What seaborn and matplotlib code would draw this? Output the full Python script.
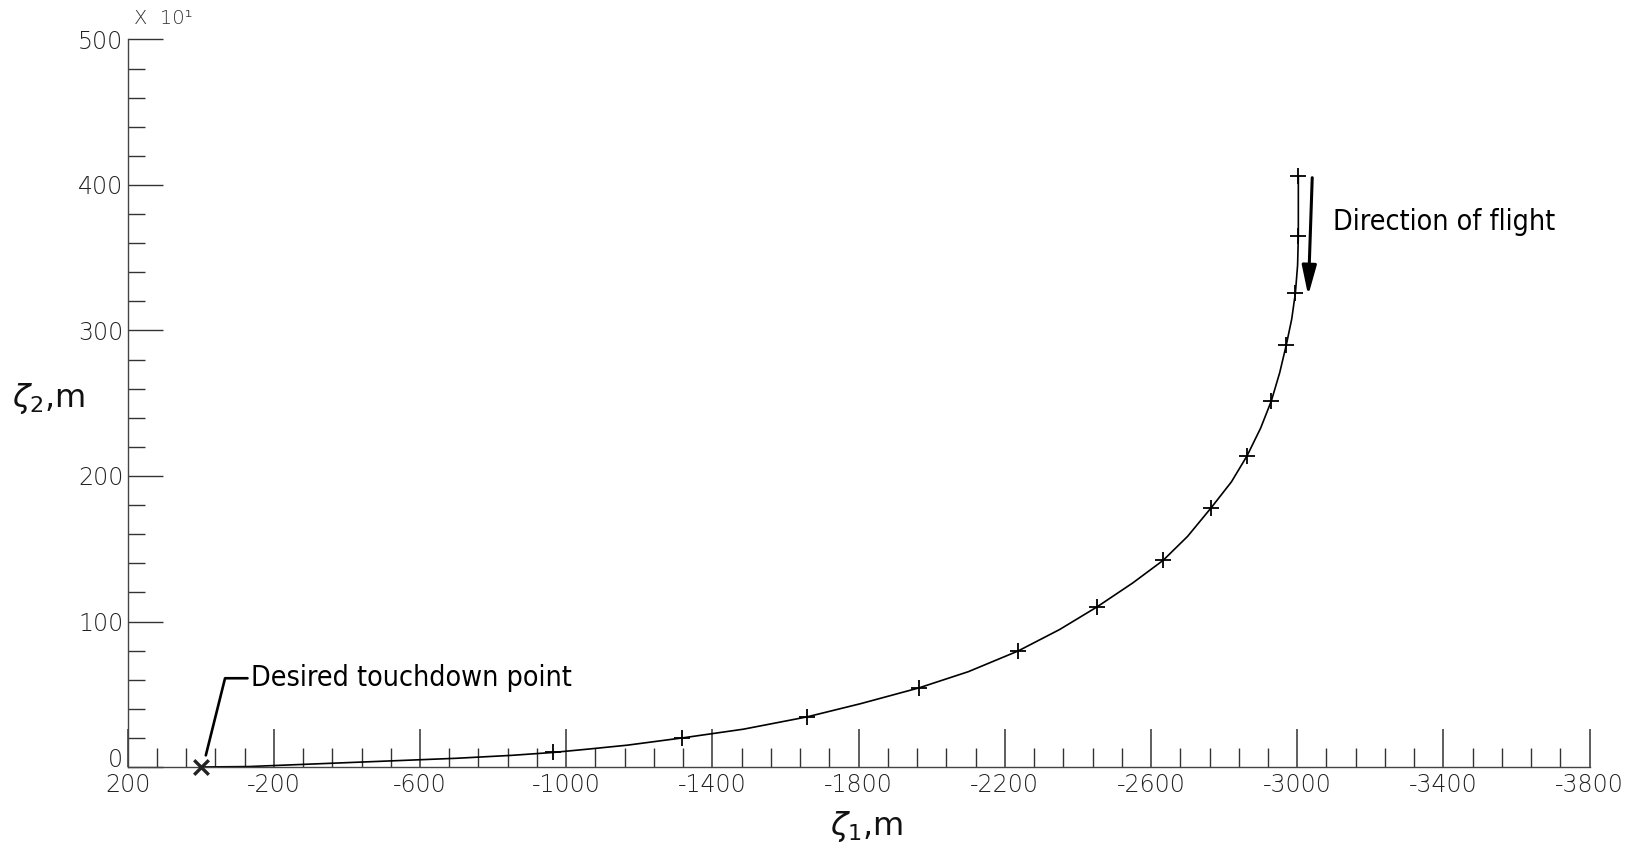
import matplotlib
matplotlib.use("Agg")
import matplotlib.pyplot as plt
from matplotlib.ticker import FixedLocator, FixedFormatter
import seaborn as sns

# Approach ground track: zeta1 in m, zeta2 in units of 10 m
track_zeta1 = [0, -130, -250, -350, -520, -700, -850, -964, -1060, -1167,
               -1318, -1485, -1658, -1805, -1964, -2100, -2236, -2350, -2452,
               -2550, -2633, -2700, -2764, -2820, -2863, -2900, -2929, -2952,
               -2970, -2985, -2995, -3001, -3003, -3003]
track_zeta2 = [0, 0.3, 1.5, 2.5, 4.2, 6.0, 8.0, 10, 12.3, 15,
               20, 26, 34.4, 43.5, 54.3, 65.5, 79.7, 94.5, 110,
               126.5, 142, 158.5, 178, 196, 214, 233, 251.5, 271,
               290, 308, 326, 345, 365, 406]

# Computed positions marked along the track
mark_zeta1 = [-964, -1318, -1658, -1964, -2236, -2452, -2633, -2764, -2863,
              -2929, -2970, -2995, -3003, -3003]
mark_zeta2 = [10, 20, 34.4, 54.3, 79.7, 110, 142, 178, 214,
              251.5, 290, 326, 365, 406]

# Desired touchdown point
touchdown_zeta1 = [0]
touchdown_zeta2 = [0]

# Axis ticks and their labels
x_major = [200, -200, -600, -1000, -1400, -1800, -2200, -2600, -3000, -3400, -3800]
x_labels = ["200", "-200", "-600", "-1000", "-1400", "-1800", "-2200",
            "-2600", "-3000", "-3400", "-3800"]
x_minor = list(range(200, -3801, -80))
y_major = [0, 100, 200, 300, 400, 500]
y_labels = ["0", "100", "200", "300", "400", "500"]
y_minor = list(range(0, 501, 20))

sns.set_style("ticks")
plt.rcParams["font.family"] = ["DejaVu Sans"]
plt.rcParams["axes.unicode_minus"] = False

fig = plt.figure(figsize=(16.4, 8.51), dpi=100)
ax = fig.add_axes([0.0778, 0.0987, 0.8915, 0.8549])

sns.lineplot(x=track_zeta1, y=track_zeta2, sort=False, estimator=None,
             color="black", linewidth=1.2, ax=ax)
sns.scatterplot(x=mark_zeta1, y=mark_zeta2, marker="+", s=120, color="black",
                linewidth=1.3, ax=ax, zorder=4)
sns.scatterplot(x=touchdown_zeta1, y=touchdown_zeta2, marker="x", s=110,
                color="#222222", linewidth=2.4, ax=ax, zorder=5, clip_on=False)

ax.set_xlim(200, -3800)
ax.set_ylim(0, 500)

ax.xaxis.set_major_locator(FixedLocator(x_major))
ax.xaxis.set_major_formatter(FixedFormatter(x_labels))
ax.xaxis.set_minor_locator(FixedLocator(x_minor))
ax.yaxis.set_major_locator(FixedLocator(y_major))
ax.yaxis.set_major_formatter(FixedFormatter(y_labels))
ax.yaxis.set_minor_locator(FixedLocator(y_minor))

for side in ("top", "right"):
    ax.spines[side].set_visible(False)
for side in ("left", "bottom"):
    ax.spines[side].set_color("#444444")
    ax.spines[side].set_linewidth(1.0)

tick_font = dict(labelsize=17, labelcolor="#222222", color="#333333")
ax.tick_params(axis="x", which="major", direction="in", length=27.4, width=1.1,
               pad=4, **tick_font)
ax.tick_params(axis="x", which="minor", direction="in", length=13.7, width=1.0,
               color="#333333")
ax.tick_params(axis="y", which="major", direction="in", length=25, width=1.0,
               pad=3, **tick_font)
ax.tick_params(axis="y", which="minor", direction="in", length=12, width=1.0,
               color="#333333")
for lbl in ax.get_xticklabels() + ax.get_yticklabels():
    lbl.set_fontweight("light")
# the zero on the vertical axis sits just above the corner
ax.get_yticklabels()[0].set_verticalalignment("baseline")

ax.set_xlabel("")
ax.set_ylabel("")

# Axis titles and scale factor
fig.text(49 / 1640, 1 - 398 / 851, r"$\zeta_2$,m", fontsize=23,
         ha="center", va="center", color="#111111")
fig.text(867 / 1640, 1 - 826 / 851, r"$\zeta_1$,m", fontsize=23,
         ha="center", va="center", color="#111111")
fig.text(134 / 1640, 1 - 19 / 851, "X  10\u00b9", fontsize=14,
         ha="left", va="center", color="#333333", fontweight="light")

note_font = dict(family=["Liberation Sans Narrow", "DejaVu Sans"],
                 fontstretch="condensed", fontsize=20.5, color="black")

ax.annotate("Desired touchdown point", xy=(-14, 8), xytext=(-137, 61),
            ha="left", va="center", annotation_clip=False,
            arrowprops=dict(arrowstyle="-", color="black", lw=1.9,
                            relpos=(0, 0.5), shrinkA=0, shrinkB=0,
                            connectionstyle="angle,angleA=0,angleB=76,rad=0"),
            **note_font)

ax.text(-3099, 374.6, "Direction of flight", ha="left", va="center", **note_font)
ax.annotate("", xy=(-3030, 324), xytext=(-3041, 405),
            arrowprops=dict(arrowstyle="-|>,head_length=0.9,head_width=0.22",
                            color="black", lw=2.2, mutation_scale=20,
                            shrinkA=0, shrinkB=0))

fig.savefig("out.png", dpi=100, facecolor="white")
